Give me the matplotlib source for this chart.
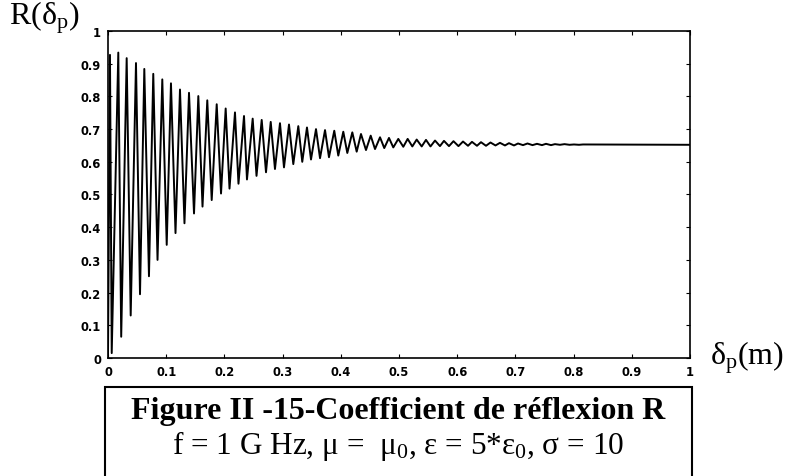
import numpy as np
import matplotlib
matplotlib.use("Agg")
import matplotlib.pyplot as plt
from matplotlib.patches import Rectangle

# peaks and troughs of R(delta_p)
peak_x = [0.0034, 0.0177, 0.0321, 0.0481, 0.0624, 0.0778, 0.0933, 0.1082, 0.1237, 0.1392,
          0.1552, 0.1706, 0.1868, 0.2022, 0.2182, 0.2337, 0.2486, 0.2641, 0.2796, 0.2955,
          0.3110, 0.3270, 0.3419, 0.3574, 0.3729, 0.3888, 0.4043, 0.4198, 0.4347, 0.4514,
          0.4674, 0.4828, 0.4988, 0.5149, 0.5304, 0.5464, 0.5619, 0.5773, 0.5936, 0.6100,
          0.6254, 0.6409, 0.6572, 0.6735, 0.6890, 0.7045, 0.7208, 0.7371, 0.7526, 0.7680,
          0.7844, 0.8007, 0.8162]
peak_r = [0.927, 0.934, 0.917, 0.902, 0.884, 0.869, 0.852, 0.840, 0.821, 0.811,
          0.801, 0.788, 0.776, 0.763, 0.751, 0.740, 0.732, 0.728, 0.722, 0.718,
          0.714, 0.709, 0.705, 0.700, 0.697, 0.695, 0.692, 0.690, 0.685, 0.680,
          0.675, 0.673, 0.670, 0.670, 0.668, 0.667, 0.665, 0.664, 0.663, 0.662,
          0.661, 0.660, 0.659, 0.658, 0.657, 0.656, 0.656, 0.655, 0.655, 0.654,
          0.654, 0.653, 0.653]

trough_x = [0.0064, 0.0227, 0.0390, 0.0550, 0.0704, 0.0851, 0.1009, 0.1160, 0.1314, 0.1478,
            0.1624, 0.1782, 0.1942, 0.2088, 0.2242, 0.2388, 0.2552, 0.2715, 0.2869, 0.3024,
            0.3184, 0.3338, 0.3488, 0.3643, 0.3797, 0.3957, 0.4112, 0.4273, 0.4433, 0.4588,
            0.4747, 0.4902, 0.5074, 0.5229, 0.5390, 0.5541, 0.5704, 0.5859, 0.6022, 0.6186,
            0.6340, 0.6495, 0.6658, 0.6821, 0.6976, 0.7131, 0.7294, 0.7457, 0.7612, 0.7766,
            0.7930, 0.8093]
trough_r = [0.015, 0.065, 0.130, 0.195, 0.250, 0.300, 0.346, 0.382, 0.412, 0.442,
            0.463, 0.483, 0.503, 0.518, 0.533, 0.546, 0.557, 0.568, 0.578, 0.583,
            0.593, 0.600, 0.607, 0.611, 0.614, 0.619, 0.627, 0.631, 0.636, 0.639,
            0.642, 0.644, 0.646, 0.647, 0.647, 0.647, 0.648, 0.648, 0.648, 0.649,
            0.649, 0.649, 0.650, 0.650, 0.650, 0.651, 0.651, 0.651, 0.651, 0.652,
            0.652, 0.652]

start_pt = (0.0, 0.0)
end_pt = (1.0, 0.652)

ticks = [0, 0.1, 0.2, 0.3, 0.4, 0.5, 0.6, 0.7, 0.8, 0.9, 1]
tick_labels = ['0', '0.1', '0.2', '0.3', '0.4', '0.5', '0.6', '0.7', '0.8', '0.9', '1']

# build the zigzag: peak, trough, peak, ...
xs = [start_pt[0]]
rs = [start_pt[1]]
for i in range(len(peak_x)):
    xs.append(peak_x[i])
    rs.append(peak_r[i])
    if i < len(trough_x):
        xs.append(trough_x[i])
        rs.append(trough_r[i])
xs.append(end_pt[0])
rs.append(end_pt[1])

plt.rcParams['mathtext.fontset'] = 'custom'
plt.rcParams['mathtext.rm'] = 'Liberation Serif'
plt.rcParams['mathtext.it'] = 'Liberation Serif'

fig = plt.figure(figsize=(7.9, 4.77), dpi=100)
ax = fig.add_axes([0.1367, 0.2474, 0.7367, 0.6855])
ax.plot(xs, rs, color='black', linewidth=1.4, solid_joinstyle='round')

ax.set_xlim(0, 1)
ax.set_ylim(0, 1)
ax.set_xticks(ticks)
ax.set_xticklabels(tick_labels)
ax.set_yticks(ticks)
ax.set_yticklabels(tick_labels)
ax.tick_params(direction='in', length=3, width=0.8, top=True, right=True,
               labelsize=8.3, pad=5)
for lab in ax.get_xticklabels() + ax.get_yticklabels():
    lab.set_fontweight('bold')
for s in ax.spines.values():
    s.set_linewidth(1.2)

serif = ['Liberation Serif', 'DejaVu Serif']
fig.text(0.012, 0.963, 'R($\\mathrm{\\delta_p}$)', family=serif, fontsize=23,
         ha='left', va='center')
fig.text(0.899, 0.25, '$\\mathrm{\\delta_p}$(m)', family=serif, fontsize=23,
         ha='left', va='center')

# caption box, open at the bottom
box = Rectangle((0.133, -0.05), 0.743, 0.237, transform=fig.transFigure,
                fill=False, edgecolor='black', linewidth=1.5)
fig.patches.append(box)
fig.text(0.504, 0.137, 'Figure II -15-Coefficient de réflexion R', family=serif,
         fontsize=23, fontweight='bold', ha='center', va='center')
fig.text(0.504, 0.066, 'f = 1 G Hz, μ =  μ${}_0$, ε = 5*ε${}_0$, σ = 10', family=serif,
         fontsize=22.5, ha='center', va='center')

fig.savefig('out.png', dpi=100)
